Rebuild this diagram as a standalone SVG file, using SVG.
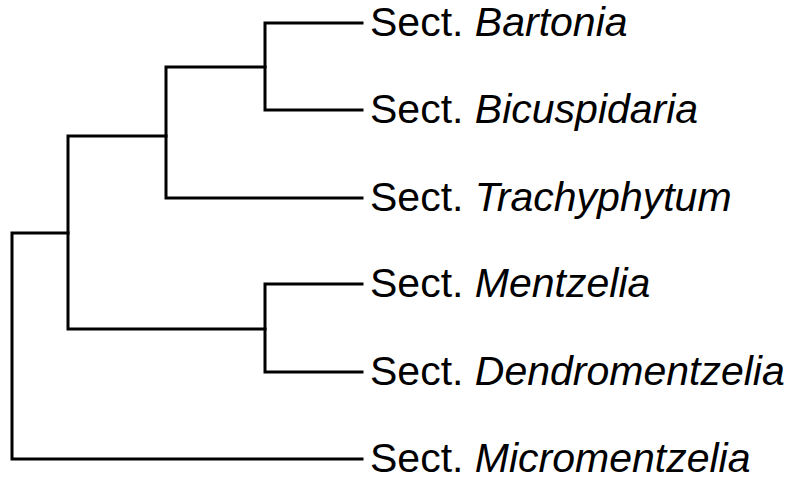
<svg xmlns="http://www.w3.org/2000/svg" width="800" height="497" viewBox="0 0 800 497">
<style>
.e{fill:none;stroke:#000;stroke-width:3;stroke-linecap:square;stroke-linejoin:miter}
.t{font-family:"Liberation Sans",Arial,sans-serif;font-size:41px;fill:#000}
.i{font-style:italic}
</style>
<rect width="800" height="497" fill="#fff"/>
<g id="connectors">
<path class="e" d="M362,23 H265 V110 H362"/>
<path class="e" d="M265,67 H166 V198 H362"/>
<path class="e" d="M362,284 H265 V372 H362"/>
<path class="e" d="M166,136 H68 V329 H265"/>
<path class="e" d="M68,233 H12 V459 H362"/>
</g>
<g id="bartonia"><text class="t" x="370" y="36">Sect. <tspan class="i">Bartonia</tspan></text></g>
<g id="bicuspidaria"><text class="t" x="370" y="123">Sect. <tspan class="i">Bicuspidaria</tspan></text></g>
<g id="trachyphytum"><text class="t" x="370" y="211">Sect. <tspan class="i">Trachyphytum</tspan></text></g>
<g id="mentzelia"><text class="t" x="370" y="297">Sect. <tspan class="i">Mentzelia</tspan></text></g>
<g id="dendromentzelia"><text class="t" x="370" y="385">Sect. <tspan class="i">Dendromentzelia</tspan></text></g>
<g id="micromentzelia"><text class="t" x="370" y="472">Sect. <tspan class="i">Micromentzelia</tspan></text></g>
</svg>
